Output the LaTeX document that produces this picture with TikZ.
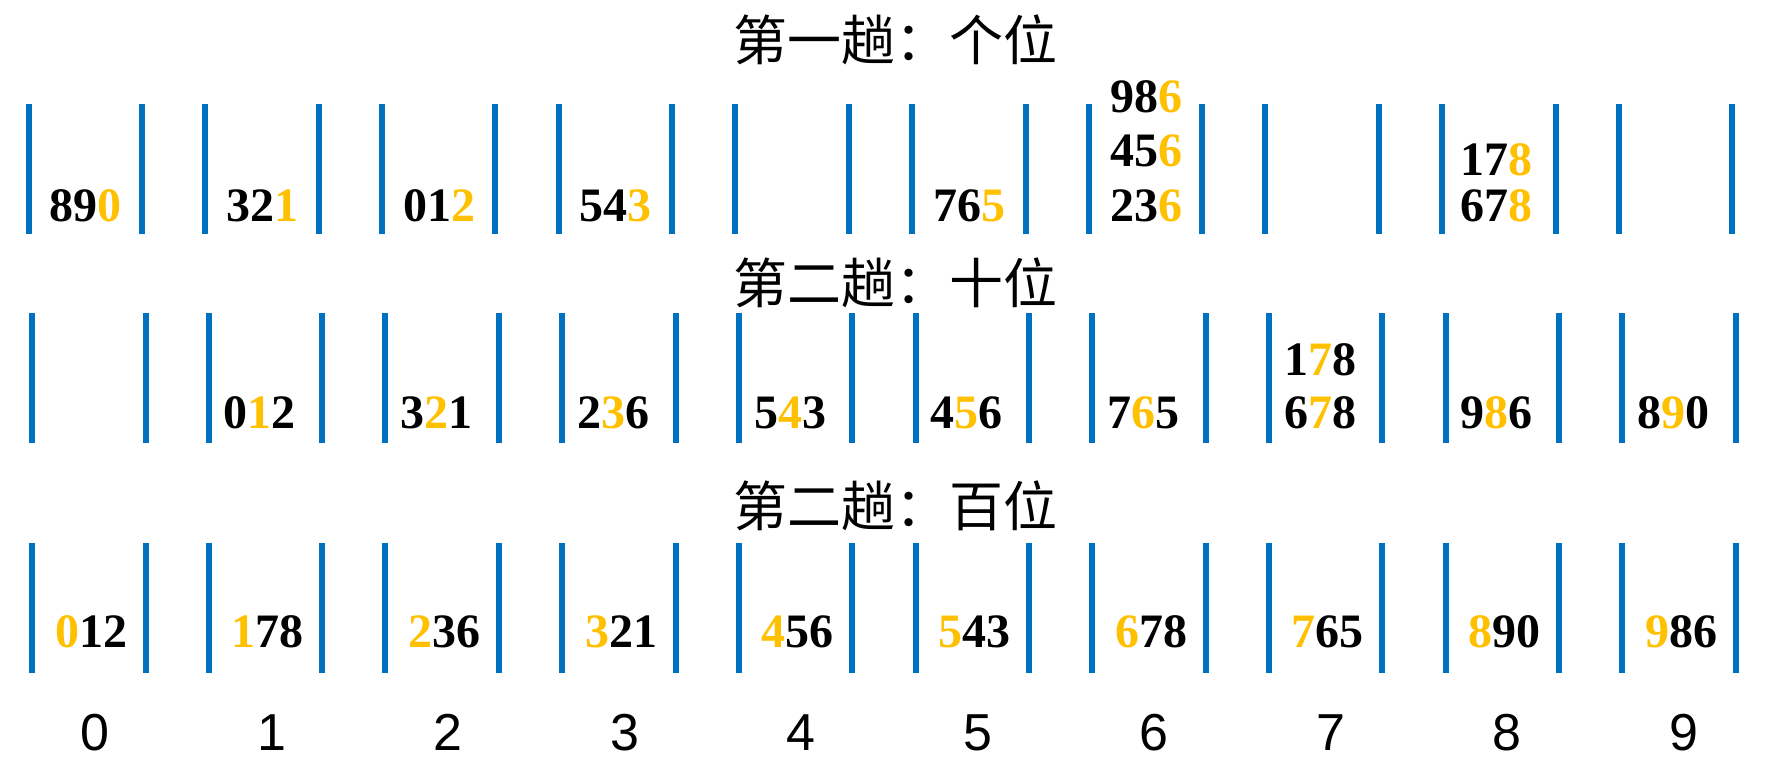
\documentclass[tikz,border=0pt]{standalone}
\usepackage{fontspec}
\setmainfont{Liberation Serif}
\setsansfont{Liberation Sans}
\newfontfamily\cjk{Noto Sans CJK SC}
\definecolor{barblue}{HTML}{0070C0}
\definecolor{digitgold}{HTML}{FFC000}
\newcommand{\hl}[1]{\textcolor{digitgold}{#1}}

\begin{document}
\begin{tikzpicture}[x=0.5pt, y=-0.5pt,
                    every node/.style = {inner sep=0pt, anchor=base},
                    bar/.style = {barblue, line width=3pt},
                    num/.style = {font=\fontsize{24}{24}\selectfont\bfseries},
                    pass/.style = {anchor=center, font=\fontsize{27}{27}\selectfont\cjk},
                    bucket/.style = {font=\fontsize{26}{26}\selectfont\sffamily}]
    \useasboundingbox (0,0) rectangle (1766,774);
    % bucket walls, three passes
    \foreach \i in {0,...,9} {
        \draw[bar] ({28.5+176.7*\i},104) -- ++(0,130);
        \draw[bar] ({142+176.7*\i},104) -- ++(0,130);
        \draw[bar] ({32+176.7*\i},313) -- ++(0,130);
        \draw[bar] ({145.5+176.7*\i},313) -- ++(0,130);
        \draw[bar] ({32+176.7*\i},543) -- ++(0,130);
        \draw[bar] ({145.5+176.7*\i},543) -- ++(0,130);
    }
    \node[pass] (pass1) at (895,40) {第一趟：个位};
    \node[pass] (pass2) at (895,283) {第二趟：十位};
    \node[pass] (pass3) at (895,506) {第二趟：百位};
    % pass 1
    \node[num] (one0) at (85,222) {89\hl{0}};
    \node[num] (one1) at (262,222) {32\hl{1}};
    \node[num] (one2) at (439,222) {01\hl{2}};
    \node[num] (one3) at (615,222) {54\hl{3}};
    \node[num] (one5) at (969,222) {76\hl{5}};
    \node[num] (one6a) at (1146,113) {98\hl{6}};
    \node[num] (one6b) at (1146,167) {45\hl{6}};
    \node[num] (one6c) at (1146,222) {23\hl{6}};
    \node[num] (one8a) at (1496,176) {17\hl{8}};
    \node[num] (one8b) at (1496,222) {67\hl{8}};
    % pass 2
    \node[num] (two1) at (259,429) {0\hl{1}2};
    \node[num] (two2) at (436,429) {3\hl{2}1};
    \node[num] (two3) at (613,429) {2\hl{3}6};
    \node[num] (two4) at (790,429) {5\hl{4}3};
    \node[num] (two5) at (966,429) {4\hl{5}6};
    \node[num] (two6) at (1143,429) {7\hl{6}5};
    \node[num] (two7a) at (1320,376) {1\hl{7}8};
    \node[num] (two7b) at (1320,429) {6\hl{7}8};
    \node[num] (two8) at (1496,429) {9\hl{8}6};
    \node[num] (two9) at (1673,429) {8\hl{9}0};
    % pass 3
    \foreach \n [count=\i from 0] in {\hl{0}12, \hl{1}78, \hl{2}36, \hl{3}21, \hl{4}56,
                                      \hl{5}43, \hl{6}78, \hl{7}65, \hl{8}90, \hl{9}86}
        \node[num] (three\i) at ({91+176.7*\i},647) {\n};
    % bucket numbers
    \foreach \i in {0,...,9}
        \node[bucket] (lab\i) at ({95+176.5*\i},750) {\i};
\end{tikzpicture}
\end{document}
